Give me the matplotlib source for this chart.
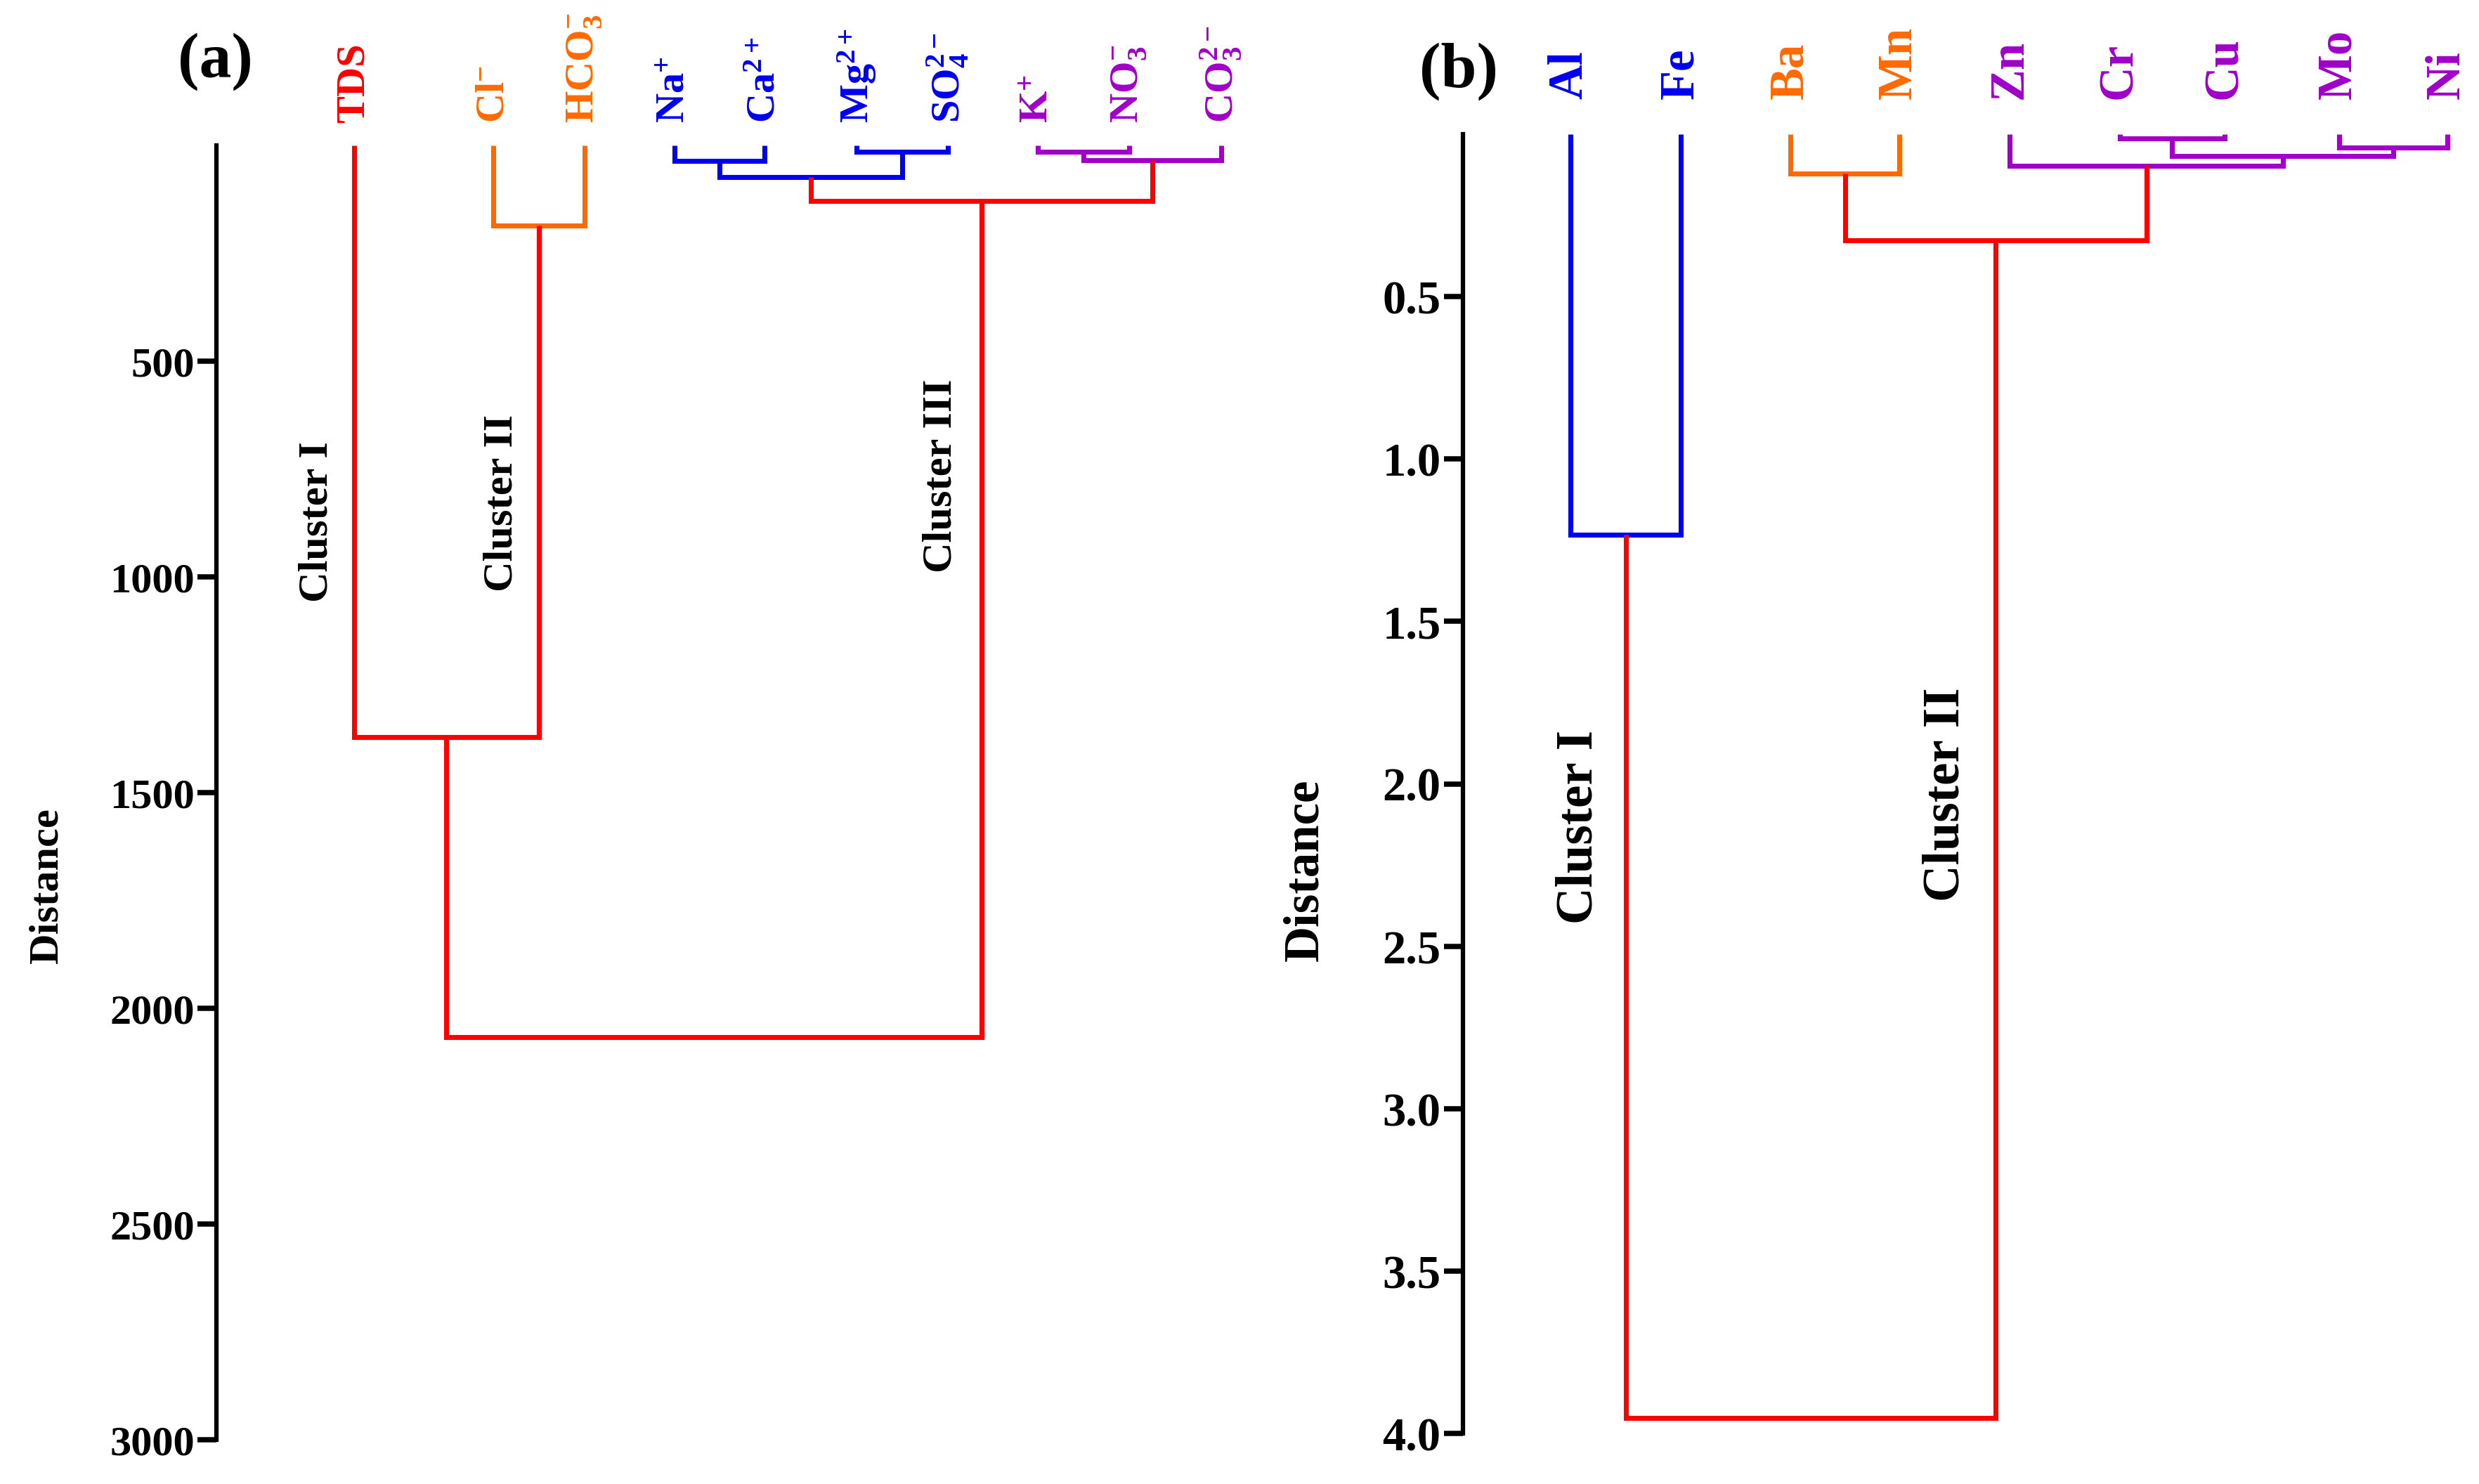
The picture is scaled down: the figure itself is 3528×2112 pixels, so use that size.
'''hierarchical cluster dendrograms: (a) major ions, (b) trace metals'''
import numpy as np
import matplotlib
matplotlib.use('Agg')
import matplotlib.pyplot as plt
from matplotlib import rcParams
params = {'font.family': 'Liberation Serif', 'font.weight': 'bold',
          'mathtext.fontset': 'custom', 'mathtext.rm': 'Liberation Serif:bold',
          'mathtext.it': 'Liberation Serif:bold', 'mathtext.bf': 'Liberation Serif:bold',
          'mathtext.default': 'rm'}
rcParams.update(params)

red = '#FF0000'
orange = '#FF6A00'
blue = '#0000F0'
purple = '#A000C8'

# (a) major ions
a_labels = ['TDS', 'Cl$^{-}$', 'HCO$_3^{-}$', 'Na$^{+}$', 'Ca$^{2+}$', 'Mg$^{2+}$',
            'SO$_4^{2-}$', 'K$^{+}$', 'NO$_3^{-}$', 'CO$_3^{2-}$']
a_label_col = [red, orange, orange, blue, blue, blue, blue, purple, purple, purple]
a_pairs = [(3, 4), (5, 6), (10, 11), (7, 8), (13, 9), (12, 14), (1, 2), (0, 16), (17, 15)]
a_dist = [36, 14, 73, 14, 34, 129, 185, 1371, 2067]
a_link_col = [blue, blue, blue, purple, purple, red, orange, red, red]
a_ticks = [500, 1000, 1500, 2000, 2500, 3000]

# (b) trace metals
b_labels = ['Al', 'Fe', 'Ba', 'Mn', 'Zn', 'Cr', 'Cu', 'Mo', 'Ni']
b_label_col = [blue, blue, orange, orange, purple, purple, purple, purple, purple]
b_pairs = [(0, 1), (2, 3), (5, 6), (7, 8), (11, 12), (4, 13), (10, 14), (9, 15)]
b_dist = [1.232, 0.121, 0.013, 0.041, 0.067, 0.097, 0.327, 3.952]
b_link_col = [blue, orange, purple, purple, purple, purple, red, red]
b_ticks = [0.5, 1.0, 1.5, 2.0, 2.5, 3.0, 3.5, 4.0]

# leaf layout (x in leaf-spacing units from the axis)
a_pos = [1.51, 3.04, 4.04, 5.03, 6.02, 7.03, 8.03, 9.02, 10.02, 11.03]
b_pos = [0.98, 1.99, 2.99, 3.98, 4.99, 5.99, 6.95, 7.99, 8.98]


def Tree(ax, pos, pairs, dist, cols, lw):
    x = list(pos)
    h = [0] * len(pos)
    for (i, j), d, c in zip(pairs, dist, cols):
        ax.plot([x[i], x[i], x[j], x[j]], [h[i], d, d, h[j]], c=c, linewidth=lw,
                solid_joinstyle='miter', solid_capstyle='butt', clip_on=False)
        x.append((x[i] + x[j]) / 2)
        h.append(d)


def Style(ax, ticks, fmt, fs):
    for s in ['top', 'right', 'bottom']:
        ax.spines[s].set_visible(False)
    ax.spines['left'].set_linewidth(1.5)
    ax.set_xticks([])
    ax.set_yticks(ticks)
    ax.set_yticklabels([fmt % t for t in ticks])
    ax.tick_params(axis='y', direction='out', length=6.5, width=1.8, pad=1, labelsize=fs)
    for t in ax.get_yticklabels():
        t.set_fontweight('bold')


fig = plt.figure(figsize=(11.76, 7.043), dpi=300)

# draw a
ax = fig.add_axes([0.0873, 0.02982, 0.4357, 0.87174])
ax.set_xlim([0, 11.86])
ax.set_ylim([3000, 0])
Tree(ax, a_pos, a_pairs, a_dist, a_link_col, 1.7)
Style(ax, a_ticks, '%d', 14.5)
for p, s, c in zip(a_pos, a_labels, a_label_col):
    ax.text(p, -54, s, color=c, fontsize=14, rotation=90, ha='center', va='bottom')
ax.text(1.11, 870, 'Cluster I', fontsize=14.5, rotation=90, ha='center', va='center')
ax.text(3.14, 827, 'Cluster II', fontsize=14.5, rotation=90, ha='center', va='center')
ax.text(7.96, 764, 'Cluster III', fontsize=14.5, rotation=90, ha='center', va='center')
fig.text(0.0190, 0.4037, 'Distance', fontsize=14.5, rotation=90, ha='center', va='center')
fig.text(0.0870, 0.9584, '(a)', fontsize=22, ha='center', va='center')

# draw b
ax = fig.add_axes([0.5901, 0.03407, 0.4069, 0.87507])
ax.set_xlim([0, 9.2])
ax.set_ylim([4.0, 0])
Tree(ax, b_pos, b_pairs, b_dist, b_link_col, 1.7)
Style(ax, b_ticks, '%.1f', 16)
for p, s, c in zip(b_pos, b_labels, b_label_col):
    ax.text(p, -0.11, s, color=c, fontsize=16.5, rotation=90, ha='center', va='bottom')
ax.text(1.06, 2.13, 'Cluster I', fontsize=17.5, rotation=90, ha='center', va='center')
ax.text(4.41, 2.03, 'Cluster II', fontsize=17.5, rotation=90, ha='center', va='center')
fig.text(0.5266, 0.4141, 'Distance', fontsize=17, rotation=90, ha='center', va='center')
fig.text(0.5884, 0.9517, '(b)', fontsize=22, ha='center', va='center')

plt.savefig('out.png', dpi=300)
